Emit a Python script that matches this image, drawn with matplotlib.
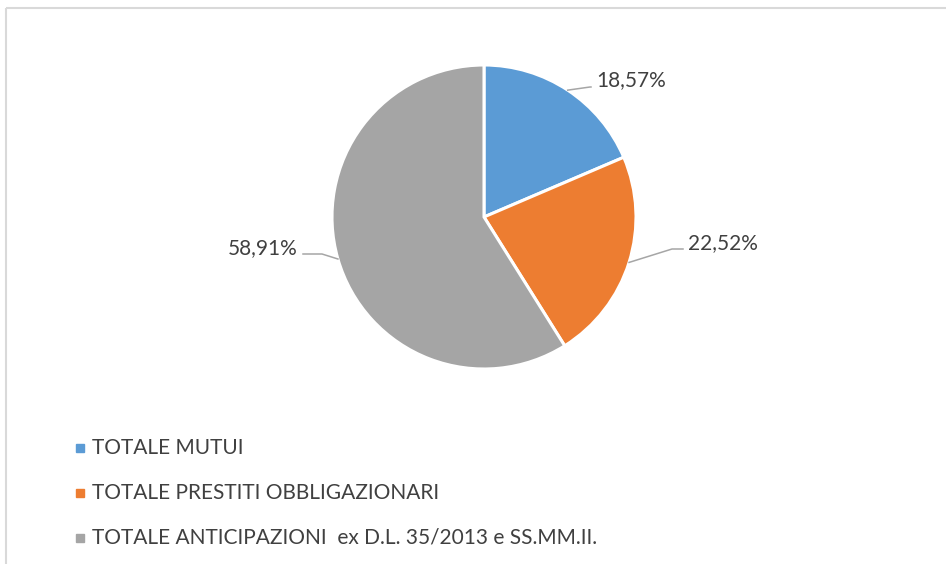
"""Pie chart: composizione del debito (mutui, prestiti obbligazionari, anticipazioni)."""

import matplotlib.pyplot as plt
import numpy as np
from matplotlib.lines import Line2D

categories = [
    "TOTALE MUTUI",
    "TOTALE PRESTITI OBBLIGAZIONARI",
    "TOTALE ANTICIPAZIONI  ex D.L. 35/2013 e SS.MM.II.",
]
shares = [18.57, 22.52, 58.91]
pct_labels = ["18,57%", "22,52%", "58,91%"]
colors = ["#5b9bd5", "#ed7d31", "#a5a5a5"]

W, H = 946, 564
plt.rcParams["font.family"] = ["Lato", "DejaVu Sans"]
TEXT = "#404040"
LEADER = "#a6a6a6"


def fy(y):
    """Convert a top-down pixel row to the axes' bottom-up coordinate."""
    return H - y


fig = plt.figure(figsize=(W / 100, H / 100), dpi=100)
ax = fig.add_axes([0, 0, 1, 1])

# chart frame (top and left edges visible)
ax.plot([6, W], [fy(8), fy(8)], color="#d9d9d9", linewidth=1.5, solid_capstyle="butt")
ax.plot([6, 6], [fy(8), 0], color="#d9d9d9", linewidth=1.5, solid_capstyle="butt")

cx, cy, r = 484, fy(217), 152
wedges, _ = ax.pie(
    shares,
    colors=colors,
    startangle=90,
    counterclock=False,
    radius=r,
    center=(cx, cy),
    frame=True,
    wedgeprops={"edgecolor": "white", "linewidth": 2.2},
)
ax.set_xlim(0, W)
ax.set_ylim(0, H)
ax.set_aspect("auto")
ax.axis("off")

# label placement: (text x, text y, alignment, elbow x, elbow y)
label_layout = [
    (596, 80, "left", 590, 87),
    (688, 243, "left", 672, 249),
    (298, 248, "right", 322, 254),
]
for w, lab, (tx, ty, ha, ex, ey) in zip(wedges, pct_labels, label_layout):
    mid = np.deg2rad((w.theta1 + w.theta2) / 2)
    px, py = cx + r * np.cos(mid), cy + r * np.sin(mid)
    end_x = tx - 5 if ha == "left" else tx + 5
    ax.add_line(Line2D([px, ex, end_x], [py, fy(ey), fy(ey)], color=LEADER, linewidth=1.1))
    ax.text(tx, fy(ty), lab, ha=ha, va="center", fontsize=15, color=TEXT)

# legend
for i, (cat, col) in enumerate(zip(categories, colors)):
    y = fy(448 + 45 * i)
    ax.plot(80, y, marker="s", markersize=6, color=col, linestyle="none")
    ax.text(92, y, cat, ha="left", va="center", fontsize=15, color=TEXT)

fig.savefig("out.png", dpi=100)
